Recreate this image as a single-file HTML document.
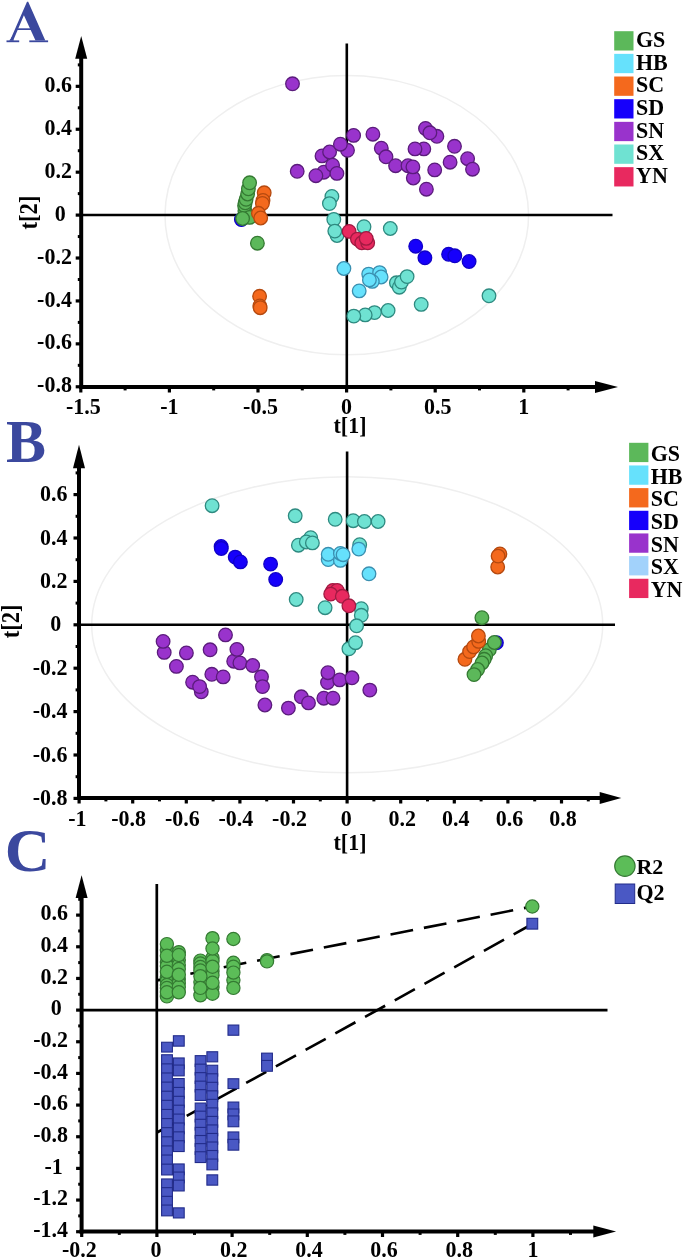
<!DOCTYPE html>
<html><head><meta charset="utf-8"><style>
html,body{margin:0;padding:0;background:#fff;}
svg{display:block;filter:blur(0.35px);}
text{font-family:"Liberation Serif", serif;}
</style></head><body>
<svg width="685" height="1260" viewBox="0 0 685 1260">
<rect width="685" height="1260" fill="#fff"/>
<ellipse cx="346.8" cy="215.2" rx="181.8" ry="139.6" fill="none" stroke="#efefef" stroke-width="1.5"/>
<line x1="81.20" y1="215.10" x2="612.50" y2="215.10" stroke="#000" stroke-width="2.5" />
<line x1="346.80" y1="43.50" x2="346.80" y2="387.00" stroke="#000" stroke-width="2.6" />
<line x1="81.20" y1="57.70" x2="81.20" y2="389.00" stroke="#000" stroke-width="4.0" />
<polygon points="81.20,36.00 75.20,58.70 87.20,58.70" fill="#000"/>
<line x1="79.20" y1="387.00" x2="596.00" y2="387.00" stroke="#000" stroke-width="4.0" />
<polygon points="618.00,387.00 595.00,381.00 595.00,393.00" fill="#000"/>
<line x1="75.70" y1="86.34" x2="81.20" y2="86.34" stroke="#000" stroke-width="3.2" />
<text transform="translate(71.90,91.94) scale(1.0,1.06)" font-size="22" text-anchor="end" fill="#000" font-weight="bold" >0.6</text>
<line x1="75.70" y1="129.26" x2="81.20" y2="129.26" stroke="#000" stroke-width="3.2" />
<text transform="translate(71.90,134.86) scale(1.0,1.06)" font-size="22" text-anchor="end" fill="#000" font-weight="bold" >0.4</text>
<line x1="75.70" y1="172.18" x2="81.20" y2="172.18" stroke="#000" stroke-width="3.2" />
<text transform="translate(71.90,177.78) scale(1.0,1.06)" font-size="22" text-anchor="end" fill="#000" font-weight="bold" >0.2</text>
<line x1="75.70" y1="215.10" x2="81.20" y2="215.10" stroke="#000" stroke-width="3.2" />
<text transform="translate(65.70,220.70) scale(1.0,1.06)" font-size="22" text-anchor="end" fill="#000" font-weight="bold" >0</text>
<line x1="75.70" y1="258.02" x2="81.20" y2="258.02" stroke="#000" stroke-width="3.2" />
<text transform="translate(71.90,263.62) scale(1.0,1.06)" font-size="22" text-anchor="end" fill="#000" font-weight="bold" >-0.2</text>
<line x1="75.70" y1="300.94" x2="81.20" y2="300.94" stroke="#000" stroke-width="3.2" />
<text transform="translate(71.90,306.54) scale(1.0,1.06)" font-size="22" text-anchor="end" fill="#000" font-weight="bold" >-0.4</text>
<line x1="75.70" y1="343.86" x2="81.20" y2="343.86" stroke="#000" stroke-width="3.2" />
<text transform="translate(71.90,349.46) scale(1.0,1.06)" font-size="22" text-anchor="end" fill="#000" font-weight="bold" >-0.6</text>
<line x1="75.70" y1="386.78" x2="81.20" y2="386.78" stroke="#000" stroke-width="3.2" />
<text transform="translate(71.90,392.38) scale(1.0,1.06)" font-size="22" text-anchor="end" fill="#000" font-weight="bold" >-0.8</text>
<line x1="77.80" y1="64.88" x2="81.20" y2="64.88" stroke="#000" stroke-width="3.0" />
<line x1="77.80" y1="107.80" x2="81.20" y2="107.80" stroke="#000" stroke-width="3.0" />
<line x1="77.80" y1="150.72" x2="81.20" y2="150.72" stroke="#000" stroke-width="3.0" />
<line x1="77.80" y1="193.64" x2="81.20" y2="193.64" stroke="#000" stroke-width="3.0" />
<line x1="77.80" y1="236.56" x2="81.20" y2="236.56" stroke="#000" stroke-width="3.0" />
<line x1="77.80" y1="279.48" x2="81.20" y2="279.48" stroke="#000" stroke-width="3.0" />
<line x1="77.80" y1="322.40" x2="81.20" y2="322.40" stroke="#000" stroke-width="3.0" />
<line x1="77.80" y1="365.32" x2="81.20" y2="365.32" stroke="#000" stroke-width="3.0" />
<line x1="80.80" y1="387.00" x2="80.80" y2="392.50" stroke="#000" stroke-width="3.2" />
<text transform="translate(83.30,413.60) scale(1.0,1.06)" font-size="22" text-anchor="middle" fill="#000" font-weight="bold" >-1.5</text>
<line x1="169.40" y1="387.00" x2="169.40" y2="392.50" stroke="#000" stroke-width="3.2" />
<text transform="translate(169.40,413.60) scale(1.0,1.06)" font-size="22" text-anchor="middle" fill="#000" font-weight="bold" >-1</text>
<line x1="258.00" y1="387.00" x2="258.00" y2="392.50" stroke="#000" stroke-width="3.2" />
<text transform="translate(260.50,413.60) scale(1.0,1.06)" font-size="22" text-anchor="middle" fill="#000" font-weight="bold" >-0.5</text>
<line x1="346.60" y1="387.00" x2="346.60" y2="392.50" stroke="#000" stroke-width="3.2" />
<text transform="translate(346.60,413.60) scale(1.0,1.06)" font-size="22" text-anchor="middle" fill="#000" font-weight="bold" >0</text>
<line x1="435.20" y1="387.00" x2="435.20" y2="392.50" stroke="#000" stroke-width="3.2" />
<text transform="translate(437.70,413.60) scale(1.0,1.06)" font-size="22" text-anchor="middle" fill="#000" font-weight="bold" >0.5</text>
<line x1="523.80" y1="387.00" x2="523.80" y2="392.50" stroke="#000" stroke-width="3.2" />
<text transform="translate(523.80,413.60) scale(1.0,1.06)" font-size="22" text-anchor="middle" fill="#000" font-weight="bold" >1</text>
<line x1="125.10" y1="387.00" x2="125.10" y2="390.40" stroke="#000" stroke-width="3.0" />
<line x1="213.70" y1="387.00" x2="213.70" y2="390.40" stroke="#000" stroke-width="3.0" />
<line x1="302.30" y1="387.00" x2="302.30" y2="390.40" stroke="#000" stroke-width="3.0" />
<line x1="390.90" y1="387.00" x2="390.90" y2="390.40" stroke="#000" stroke-width="3.0" />
<line x1="479.50" y1="387.00" x2="479.50" y2="390.40" stroke="#000" stroke-width="3.0" />
<line x1="568.10" y1="387.00" x2="568.10" y2="390.40" stroke="#000" stroke-width="3.0" />
<text transform="translate(350.00,432.80) scale(1.0,1.08)" font-size="22" text-anchor="middle" fill="#000" font-weight="bold" >t[1]</text>
<text x="0.00" y="0.00" font-size="22.6" text-anchor="middle" fill="#000" font-weight="bold" transform="translate(36.5,212.5) rotate(-90) scale(1,1.12)">t[2]</text>
<g fill="#3b489e"><path fill-rule="evenodd" d="M27.0,1.7 L28.2,1.7 L45.3,40.6 L10.0,40.6 Z M23.9,15.2 L13.2,40.6 L35.5,40.6 Z"/><rect x="16.5" y="28.3" width="15.5" height="1.7"/><rect x="6.5" y="40.4" width="12.7" height="1.8"/><rect x="29.3" y="40.4" width="18.8" height="1.8"/><path d="M9,40.6 Q11,39.5 11.5,37 L14,40.6 Z"/></g>
<rect x="614.20" y="31.20" width="19.30" height="19.30" fill="#5cb85a" />
<text transform="translate(636.00,47.00) scale(1.0,1.07)" font-size="22" text-anchor="start" fill="#000" font-weight="bold" >GS</text>
<rect x="614.20" y="53.86" width="19.30" height="19.30" fill="#66e1fc" />
<text transform="translate(636.00,69.66) scale(1.0,1.07)" font-size="22" text-anchor="start" fill="#000" font-weight="bold" >HB</text>
<rect x="614.20" y="76.52" width="19.30" height="19.30" fill="#f4691d" />
<text transform="translate(636.00,92.32) scale(1.0,1.07)" font-size="22" text-anchor="start" fill="#000" font-weight="bold" >SC</text>
<rect x="614.20" y="99.18" width="19.30" height="19.30" fill="#1600fb" />
<text transform="translate(636.00,114.98) scale(1.0,1.07)" font-size="22" text-anchor="start" fill="#000" font-weight="bold" >SD</text>
<rect x="614.20" y="121.84" width="19.30" height="19.30" fill="#9933cc" />
<text transform="translate(636.00,137.64) scale(1.0,1.07)" font-size="22" text-anchor="start" fill="#000" font-weight="bold" >SN</text>
<rect x="614.20" y="144.50" width="19.30" height="19.30" fill="#6fe2d2" />
<text transform="translate(636.00,160.30) scale(1.0,1.07)" font-size="22" text-anchor="start" fill="#000" font-weight="bold" >SX</text>
<rect x="614.20" y="167.16" width="19.30" height="19.30" fill="#e8295f" />
<text transform="translate(636.00,182.96) scale(1.0,1.07)" font-size="22" text-anchor="start" fill="#000" font-weight="bold" >YN</text>
<circle cx="241.4" cy="219.6" r="6.8" fill="#1600fb" stroke="#1000c8" stroke-width="1.3"/>
<circle cx="244.9" cy="211.0" r="6.8" fill="#5cb85a" stroke="#347a32" stroke-width="1.3"/>
<circle cx="244.6" cy="205.7" r="6.8" fill="#5cb85a" stroke="#347a32" stroke-width="1.3"/>
<circle cx="245.2" cy="202.8" r="6.8" fill="#5cb85a" stroke="#347a32" stroke-width="1.3"/>
<circle cx="246.1" cy="199.3" r="6.8" fill="#5cb85a" stroke="#347a32" stroke-width="1.3"/>
<circle cx="247.6" cy="194.0" r="6.8" fill="#5cb85a" stroke="#347a32" stroke-width="1.3"/>
<circle cx="248.4" cy="188.8" r="6.8" fill="#5cb85a" stroke="#347a32" stroke-width="1.3"/>
<circle cx="249.6" cy="182.8" r="6.8" fill="#5cb85a" stroke="#347a32" stroke-width="1.3"/>
<circle cx="249.6" cy="217.4" r="6.8" fill="#5cb85a" stroke="#347a32" stroke-width="1.3"/>
<circle cx="242.6" cy="218.5" r="6.8" fill="#5cb85a" stroke="#347a32" stroke-width="1.3"/>
<circle cx="257.4" cy="243.2" r="6.8" fill="#5cb85a" stroke="#347a32" stroke-width="1.3"/>
<circle cx="264.2" cy="192.8" r="6.8" fill="#f4691d" stroke="#b5490f" stroke-width="1.3"/>
<circle cx="263.0" cy="200.4" r="6.8" fill="#f4691d" stroke="#b5490f" stroke-width="1.3"/>
<circle cx="262.4" cy="203.4" r="6.8" fill="#f4691d" stroke="#b5490f" stroke-width="1.3"/>
<circle cx="258.4" cy="213.3" r="6.8" fill="#f4691d" stroke="#b5490f" stroke-width="1.3"/>
<circle cx="260.7" cy="218.0" r="6.8" fill="#f4691d" stroke="#b5490f" stroke-width="1.3"/>
<circle cx="259.6" cy="296.3" r="6.8" fill="#f4691d" stroke="#b5490f" stroke-width="1.3"/>
<circle cx="259.8" cy="305.9" r="6.8" fill="#f4691d" stroke="#b5490f" stroke-width="1.3"/>
<circle cx="260.2" cy="307.7" r="6.8" fill="#f4691d" stroke="#b5490f" stroke-width="1.3"/>
<circle cx="292.5" cy="83.8" r="6.8" fill="#9933cc" stroke="#5b1c7c" stroke-width="1.3"/>
<circle cx="297.2" cy="171.3" r="6.8" fill="#9933cc" stroke="#5b1c7c" stroke-width="1.3"/>
<circle cx="323.8" cy="172.2" r="6.8" fill="#9933cc" stroke="#5b1c7c" stroke-width="1.3"/>
<circle cx="315.9" cy="175.7" r="6.8" fill="#9933cc" stroke="#5b1c7c" stroke-width="1.3"/>
<circle cx="322.0" cy="155.9" r="6.8" fill="#9933cc" stroke="#5b1c7c" stroke-width="1.3"/>
<circle cx="329.6" cy="152.0" r="6.8" fill="#9933cc" stroke="#5b1c7c" stroke-width="1.3"/>
<circle cx="332.6" cy="165.2" r="6.8" fill="#9933cc" stroke="#5b1c7c" stroke-width="1.3"/>
<circle cx="336.9" cy="173.4" r="6.8" fill="#9933cc" stroke="#5b1c7c" stroke-width="1.3"/>
<circle cx="347.5" cy="150.3" r="6.8" fill="#9933cc" stroke="#5b1c7c" stroke-width="1.3"/>
<circle cx="340.4" cy="144.2" r="6.8" fill="#9933cc" stroke="#5b1c7c" stroke-width="1.3"/>
<circle cx="353.6" cy="135.4" r="6.8" fill="#9933cc" stroke="#5b1c7c" stroke-width="1.3"/>
<circle cx="372.9" cy="134.2" r="6.8" fill="#9933cc" stroke="#5b1c7c" stroke-width="1.3"/>
<circle cx="381.3" cy="148.2" r="6.8" fill="#9933cc" stroke="#5b1c7c" stroke-width="1.3"/>
<circle cx="386.0" cy="156.8" r="6.8" fill="#9933cc" stroke="#5b1c7c" stroke-width="1.3"/>
<circle cx="395.6" cy="165.7" r="6.8" fill="#9933cc" stroke="#5b1c7c" stroke-width="1.3"/>
<circle cx="425.5" cy="128.4" r="6.8" fill="#9933cc" stroke="#5b1c7c" stroke-width="1.3"/>
<circle cx="436.9" cy="136.3" r="6.8" fill="#9933cc" stroke="#5b1c7c" stroke-width="1.3"/>
<circle cx="429.9" cy="132.8" r="6.8" fill="#9933cc" stroke="#5b1c7c" stroke-width="1.3"/>
<circle cx="423.8" cy="148.9" r="6.8" fill="#9933cc" stroke="#5b1c7c" stroke-width="1.3"/>
<circle cx="415.0" cy="148.9" r="6.8" fill="#9933cc" stroke="#5b1c7c" stroke-width="1.3"/>
<circle cx="454.5" cy="146.3" r="6.8" fill="#9933cc" stroke="#5b1c7c" stroke-width="1.3"/>
<circle cx="408.0" cy="165.7" r="6.8" fill="#9933cc" stroke="#5b1c7c" stroke-width="1.3"/>
<circle cx="413.3" cy="178.0" r="6.8" fill="#9933cc" stroke="#5b1c7c" stroke-width="1.3"/>
<circle cx="412.9" cy="166.9" r="6.8" fill="#9933cc" stroke="#5b1c7c" stroke-width="1.3"/>
<circle cx="434.7" cy="169.9" r="6.8" fill="#9933cc" stroke="#5b1c7c" stroke-width="1.3"/>
<circle cx="450.1" cy="162.2" r="6.8" fill="#9933cc" stroke="#5b1c7c" stroke-width="1.3"/>
<circle cx="426.4" cy="189.2" r="6.8" fill="#9933cc" stroke="#5b1c7c" stroke-width="1.3"/>
<circle cx="467.6" cy="158.7" r="6.8" fill="#9933cc" stroke="#5b1c7c" stroke-width="1.3"/>
<circle cx="472.5" cy="169.2" r="6.8" fill="#9933cc" stroke="#5b1c7c" stroke-width="1.3"/>
<circle cx="343.9" cy="268.5" r="6.8" fill="#66e1fc" stroke="#3a8fb0" stroke-width="1.3"/>
<circle cx="368.7" cy="274.1" r="6.8" fill="#66e1fc" stroke="#3a8fb0" stroke-width="1.3"/>
<circle cx="379.6" cy="272.6" r="6.8" fill="#66e1fc" stroke="#3a8fb0" stroke-width="1.3"/>
<circle cx="381.1" cy="277.0" r="6.8" fill="#66e1fc" stroke="#3a8fb0" stroke-width="1.3"/>
<circle cx="372.3" cy="281.4" r="6.8" fill="#66e1fc" stroke="#3a8fb0" stroke-width="1.3"/>
<circle cx="369.4" cy="279.9" r="6.8" fill="#66e1fc" stroke="#3a8fb0" stroke-width="1.3"/>
<circle cx="359.2" cy="290.9" r="6.8" fill="#66e1fc" stroke="#3a8fb0" stroke-width="1.3"/>
<circle cx="415.7" cy="246.2" r="6.8" fill="#1600fb" stroke="#1000c8" stroke-width="1.3"/>
<circle cx="424.9" cy="257.8" r="6.8" fill="#1600fb" stroke="#1000c8" stroke-width="1.3"/>
<circle cx="448.6" cy="254.3" r="6.8" fill="#1600fb" stroke="#1000c8" stroke-width="1.3"/>
<circle cx="454.8" cy="255.8" r="6.8" fill="#1600fb" stroke="#1000c8" stroke-width="1.3"/>
<circle cx="469.1" cy="261.5" r="6.8" fill="#1600fb" stroke="#1000c8" stroke-width="1.3"/>
<circle cx="331.9" cy="196.4" r="6.8" fill="#6fe2d2" stroke="#2e8a80" stroke-width="1.3"/>
<circle cx="329.4" cy="203.6" r="6.8" fill="#6fe2d2" stroke="#2e8a80" stroke-width="1.3"/>
<circle cx="333.8" cy="219.4" r="6.8" fill="#6fe2d2" stroke="#2e8a80" stroke-width="1.3"/>
<circle cx="337.0" cy="235.5" r="6.8" fill="#6fe2d2" stroke="#2e8a80" stroke-width="1.3"/>
<circle cx="334.8" cy="231.1" r="6.8" fill="#6fe2d2" stroke="#2e8a80" stroke-width="1.3"/>
<circle cx="364.0" cy="226.7" r="6.8" fill="#6fe2d2" stroke="#2e8a80" stroke-width="1.3"/>
<circle cx="390.3" cy="228.5" r="6.8" fill="#6fe2d2" stroke="#2e8a80" stroke-width="1.3"/>
<circle cx="396.4" cy="282.8" r="6.8" fill="#6fe2d2" stroke="#2e8a80" stroke-width="1.3"/>
<circle cx="399.3" cy="287.2" r="6.8" fill="#6fe2d2" stroke="#2e8a80" stroke-width="1.3"/>
<circle cx="401.5" cy="282.1" r="6.8" fill="#6fe2d2" stroke="#2e8a80" stroke-width="1.3"/>
<circle cx="407.1" cy="276.6" r="6.8" fill="#6fe2d2" stroke="#2e8a80" stroke-width="1.3"/>
<circle cx="421.2" cy="304.4" r="6.8" fill="#6fe2d2" stroke="#2e8a80" stroke-width="1.3"/>
<circle cx="388.1" cy="310.5" r="6.8" fill="#6fe2d2" stroke="#2e8a80" stroke-width="1.3"/>
<circle cx="374.5" cy="312.6" r="6.8" fill="#6fe2d2" stroke="#2e8a80" stroke-width="1.3"/>
<circle cx="365.2" cy="314.9" r="6.8" fill="#6fe2d2" stroke="#2e8a80" stroke-width="1.3"/>
<circle cx="353.8" cy="316.1" r="6.8" fill="#6fe2d2" stroke="#2e8a80" stroke-width="1.3"/>
<circle cx="489.0" cy="295.8" r="6.8" fill="#6fe2d2" stroke="#2e8a80" stroke-width="1.3"/>
<circle cx="349.1" cy="231.4" r="6.8" fill="#e8295f" stroke="#a11a42" stroke-width="1.3"/>
<circle cx="357.4" cy="239.1" r="6.8" fill="#e8295f" stroke="#a11a42" stroke-width="1.3"/>
<circle cx="361.8" cy="242.8" r="6.8" fill="#e8295f" stroke="#a11a42" stroke-width="1.3"/>
<circle cx="367.7" cy="242.8" r="6.8" fill="#e8295f" stroke="#a11a42" stroke-width="1.3"/>
<circle cx="366.2" cy="238.4" r="6.8" fill="#e8295f" stroke="#a11a42" stroke-width="1.3"/>
<ellipse cx="347.2" cy="624.8" rx="255.5" ry="148" fill="none" stroke="#efefef" stroke-width="1.5"/>
<line x1="79.00" y1="624.80" x2="615.00" y2="624.80" stroke="#000" stroke-width="2.5" />
<line x1="347.10" y1="451.50" x2="347.10" y2="798.00" stroke="#000" stroke-width="2.6" />
<line x1="79.00" y1="467.30" x2="79.00" y2="800.00" stroke="#000" stroke-width="4.0" />
<polygon points="79.00,444.70 73.00,468.30 85.00,468.30" fill="#000"/>
<line x1="77.00" y1="798.00" x2="600.70" y2="798.00" stroke="#000" stroke-width="4.0" />
<polygon points="621.30,798.00 599.70,792.00 599.70,804.00" fill="#000"/>
<line x1="73.50" y1="494.60" x2="79.00" y2="494.60" stroke="#000" stroke-width="3.2" />
<text transform="translate(67.50,501.10) scale(1.0,1.06)" font-size="22" text-anchor="end" fill="#000" font-weight="bold" >0.6</text>
<line x1="73.50" y1="538.00" x2="79.00" y2="538.00" stroke="#000" stroke-width="3.2" />
<text transform="translate(67.50,544.50) scale(1.0,1.06)" font-size="22" text-anchor="end" fill="#000" font-weight="bold" >0.4</text>
<line x1="73.50" y1="581.40" x2="79.00" y2="581.40" stroke="#000" stroke-width="3.2" />
<text transform="translate(67.50,587.90) scale(1.0,1.06)" font-size="22" text-anchor="end" fill="#000" font-weight="bold" >0.2</text>
<line x1="73.50" y1="624.80" x2="79.00" y2="624.80" stroke="#000" stroke-width="3.2" />
<text transform="translate(61.30,631.30) scale(1.0,1.06)" font-size="22" text-anchor="end" fill="#000" font-weight="bold" >0</text>
<line x1="73.50" y1="668.20" x2="79.00" y2="668.20" stroke="#000" stroke-width="3.2" />
<text transform="translate(67.50,674.70) scale(1.0,1.06)" font-size="22" text-anchor="end" fill="#000" font-weight="bold" >-0.2</text>
<line x1="73.50" y1="711.60" x2="79.00" y2="711.60" stroke="#000" stroke-width="3.2" />
<text transform="translate(67.50,718.10) scale(1.0,1.06)" font-size="22" text-anchor="end" fill="#000" font-weight="bold" >-0.4</text>
<line x1="73.50" y1="755.00" x2="79.00" y2="755.00" stroke="#000" stroke-width="3.2" />
<text transform="translate(67.50,761.50) scale(1.0,1.06)" font-size="22" text-anchor="end" fill="#000" font-weight="bold" >-0.6</text>
<line x1="73.50" y1="798.40" x2="79.00" y2="798.40" stroke="#000" stroke-width="3.2" />
<text transform="translate(67.50,804.90) scale(1.0,1.06)" font-size="22" text-anchor="end" fill="#000" font-weight="bold" >-0.8</text>
<line x1="75.60" y1="472.90" x2="79.00" y2="472.90" stroke="#000" stroke-width="3.0" />
<line x1="75.60" y1="516.30" x2="79.00" y2="516.30" stroke="#000" stroke-width="3.0" />
<line x1="75.60" y1="559.70" x2="79.00" y2="559.70" stroke="#000" stroke-width="3.0" />
<line x1="75.60" y1="603.10" x2="79.00" y2="603.10" stroke="#000" stroke-width="3.0" />
<line x1="75.60" y1="646.50" x2="79.00" y2="646.50" stroke="#000" stroke-width="3.0" />
<line x1="75.60" y1="689.90" x2="79.00" y2="689.90" stroke="#000" stroke-width="3.0" />
<line x1="75.60" y1="733.30" x2="79.00" y2="733.30" stroke="#000" stroke-width="3.0" />
<line x1="75.60" y1="776.70" x2="79.00" y2="776.70" stroke="#000" stroke-width="3.0" />
<line x1="79.10" y1="798.00" x2="79.10" y2="803.50" stroke="#000" stroke-width="3.2" />
<text transform="translate(77.30,826.30) scale(1.0,1.06)" font-size="22" text-anchor="middle" fill="#000" font-weight="bold" >-1</text>
<line x1="132.70" y1="798.00" x2="132.70" y2="803.50" stroke="#000" stroke-width="3.2" />
<text transform="translate(128.70,826.30) scale(1.0,1.06)" font-size="22" text-anchor="middle" fill="#000" font-weight="bold" >-0.8</text>
<line x1="186.30" y1="798.00" x2="186.30" y2="803.50" stroke="#000" stroke-width="3.2" />
<text transform="translate(182.30,826.30) scale(1.0,1.06)" font-size="22" text-anchor="middle" fill="#000" font-weight="bold" >-0.6</text>
<line x1="239.90" y1="798.00" x2="239.90" y2="803.50" stroke="#000" stroke-width="3.2" />
<text transform="translate(235.90,826.30) scale(1.0,1.06)" font-size="22" text-anchor="middle" fill="#000" font-weight="bold" >-0.4</text>
<line x1="293.50" y1="798.00" x2="293.50" y2="803.50" stroke="#000" stroke-width="3.2" />
<text transform="translate(289.50,826.30) scale(1.0,1.06)" font-size="22" text-anchor="middle" fill="#000" font-weight="bold" >-0.2</text>
<line x1="347.10" y1="798.00" x2="347.10" y2="803.50" stroke="#000" stroke-width="3.2" />
<text transform="translate(346.20,826.30) scale(1.0,1.06)" font-size="22" text-anchor="middle" fill="#000" font-weight="bold" >0</text>
<line x1="400.70" y1="798.00" x2="400.70" y2="803.50" stroke="#000" stroke-width="3.2" />
<text transform="translate(402.20,826.30) scale(1.0,1.06)" font-size="22" text-anchor="middle" fill="#000" font-weight="bold" >0.2</text>
<line x1="454.30" y1="798.00" x2="454.30" y2="803.50" stroke="#000" stroke-width="3.2" />
<text transform="translate(455.80,826.30) scale(1.0,1.06)" font-size="22" text-anchor="middle" fill="#000" font-weight="bold" >0.4</text>
<line x1="507.90" y1="798.00" x2="507.90" y2="803.50" stroke="#000" stroke-width="3.2" />
<text transform="translate(509.40,826.30) scale(1.0,1.06)" font-size="22" text-anchor="middle" fill="#000" font-weight="bold" >0.6</text>
<line x1="561.50" y1="798.00" x2="561.50" y2="803.50" stroke="#000" stroke-width="3.2" />
<text transform="translate(563.00,826.30) scale(1.0,1.06)" font-size="22" text-anchor="middle" fill="#000" font-weight="bold" >0.8</text>
<line x1="105.90" y1="798.00" x2="105.90" y2="801.40" stroke="#000" stroke-width="3.0" />
<line x1="159.50" y1="798.00" x2="159.50" y2="801.40" stroke="#000" stroke-width="3.0" />
<line x1="213.10" y1="798.00" x2="213.10" y2="801.40" stroke="#000" stroke-width="3.0" />
<line x1="266.70" y1="798.00" x2="266.70" y2="801.40" stroke="#000" stroke-width="3.0" />
<line x1="320.30" y1="798.00" x2="320.30" y2="801.40" stroke="#000" stroke-width="3.0" />
<line x1="373.90" y1="798.00" x2="373.90" y2="801.40" stroke="#000" stroke-width="3.0" />
<line x1="427.50" y1="798.00" x2="427.50" y2="801.40" stroke="#000" stroke-width="3.0" />
<line x1="481.10" y1="798.00" x2="481.10" y2="801.40" stroke="#000" stroke-width="3.0" />
<line x1="534.70" y1="798.00" x2="534.70" y2="801.40" stroke="#000" stroke-width="3.0" />
<line x1="588.30" y1="798.00" x2="588.30" y2="801.40" stroke="#000" stroke-width="3.0" />
<text transform="translate(350.00,849.60) scale(1.0,1.08)" font-size="22" text-anchor="middle" fill="#000" font-weight="bold" >t[1]</text>
<text x="0.00" y="0.00" font-size="22.6" text-anchor="middle" fill="#000" font-weight="bold" transform="translate(19.2,621.4) rotate(-90) scale(1,1.1)">t[2]</text>
<text transform="translate(6.00,461.80) scale(1.0,1.025)" font-size="60" text-anchor="start" fill="#3b489e" font-weight="bold" >B</text>
<rect x="629.10" y="442.80" width="19.30" height="19.30" fill="#5cb85a" />
<text transform="translate(650.70,461.10) scale(1.0,1.06)" font-size="22" text-anchor="start" fill="#000" font-weight="bold" >GS</text>
<rect x="629.10" y="465.46" width="19.30" height="19.30" fill="#66e1fc" />
<text transform="translate(650.70,483.76) scale(1.0,1.06)" font-size="22" text-anchor="start" fill="#000" font-weight="bold" >HB</text>
<rect x="629.10" y="488.12" width="19.30" height="19.30" fill="#f4691d" />
<text transform="translate(650.70,506.42) scale(1.0,1.06)" font-size="22" text-anchor="start" fill="#000" font-weight="bold" >SC</text>
<rect x="629.10" y="510.78" width="19.30" height="19.30" fill="#1600fb" />
<text transform="translate(650.70,529.08) scale(1.0,1.06)" font-size="22" text-anchor="start" fill="#000" font-weight="bold" >SD</text>
<rect x="629.10" y="533.44" width="19.30" height="19.30" fill="#9933cc" />
<text transform="translate(650.70,551.74) scale(1.0,1.06)" font-size="22" text-anchor="start" fill="#000" font-weight="bold" >SN</text>
<rect x="629.10" y="556.10" width="19.30" height="19.30" fill="#a2d2fb" />
<text transform="translate(650.70,574.40) scale(1.0,1.06)" font-size="22" text-anchor="start" fill="#000" font-weight="bold" >SX</text>
<rect x="629.10" y="578.76" width="19.30" height="19.30" fill="#e8295f" />
<text transform="translate(650.70,597.06) scale(1.0,1.06)" font-size="22" text-anchor="start" fill="#000" font-weight="bold" >YN</text>
<circle cx="496.4" cy="642.8" r="6.8" fill="#1600fb" stroke="#1000c8" stroke-width="1.3"/>
<circle cx="481.9" cy="617.7" r="6.8" fill="#5cb85a" stroke="#347a32" stroke-width="1.3"/>
<circle cx="489.3" cy="649.8" r="6.8" fill="#5cb85a" stroke="#347a32" stroke-width="1.3"/>
<circle cx="485.7" cy="655.7" r="6.8" fill="#5cb85a" stroke="#347a32" stroke-width="1.3"/>
<circle cx="484.2" cy="659.3" r="6.8" fill="#5cb85a" stroke="#347a32" stroke-width="1.3"/>
<circle cx="482.0" cy="663.0" r="6.8" fill="#5cb85a" stroke="#347a32" stroke-width="1.3"/>
<circle cx="477.6" cy="669.5" r="6.8" fill="#5cb85a" stroke="#347a32" stroke-width="1.3"/>
<circle cx="474.0" cy="674.6" r="6.8" fill="#5cb85a" stroke="#347a32" stroke-width="1.3"/>
<circle cx="494.4" cy="642.5" r="6.8" fill="#5cb85a" stroke="#347a32" stroke-width="1.3"/>
<circle cx="497.7" cy="567.0" r="6.8" fill="#f4691d" stroke="#b5490f" stroke-width="1.3"/>
<circle cx="499.9" cy="553.9" r="6.8" fill="#f4691d" stroke="#b5490f" stroke-width="1.3"/>
<circle cx="498.1" cy="556.1" r="6.8" fill="#f4691d" stroke="#b5490f" stroke-width="1.3"/>
<circle cx="464.9" cy="659.3" r="6.8" fill="#f4691d" stroke="#b5490f" stroke-width="1.3"/>
<circle cx="469.6" cy="651.6" r="6.8" fill="#f4691d" stroke="#b5490f" stroke-width="1.3"/>
<circle cx="473.6" cy="646.9" r="6.8" fill="#f4691d" stroke="#b5490f" stroke-width="1.3"/>
<circle cx="478.7" cy="641.4" r="6.8" fill="#f4691d" stroke="#b5490f" stroke-width="1.3"/>
<circle cx="478.4" cy="636.0" r="6.8" fill="#f4691d" stroke="#b5490f" stroke-width="1.3"/>
<circle cx="164.2" cy="652.4" r="6.8" fill="#9933cc" stroke="#5b1c7c" stroke-width="1.3"/>
<circle cx="163.1" cy="641.4" r="6.8" fill="#9933cc" stroke="#5b1c7c" stroke-width="1.3"/>
<circle cx="176.4" cy="666.4" r="6.8" fill="#9933cc" stroke="#5b1c7c" stroke-width="1.3"/>
<circle cx="186.4" cy="652.9" r="6.8" fill="#9933cc" stroke="#5b1c7c" stroke-width="1.3"/>
<circle cx="192.6" cy="682.2" r="6.8" fill="#9933cc" stroke="#5b1c7c" stroke-width="1.3"/>
<circle cx="201.3" cy="691.8" r="6.8" fill="#9933cc" stroke="#5b1c7c" stroke-width="1.3"/>
<circle cx="199.6" cy="686.6" r="6.8" fill="#9933cc" stroke="#5b1c7c" stroke-width="1.3"/>
<circle cx="210.1" cy="649.8" r="6.8" fill="#9933cc" stroke="#5b1c7c" stroke-width="1.3"/>
<circle cx="211.8" cy="674.3" r="6.8" fill="#9933cc" stroke="#5b1c7c" stroke-width="1.3"/>
<circle cx="223.2" cy="676.9" r="6.8" fill="#9933cc" stroke="#5b1c7c" stroke-width="1.3"/>
<circle cx="225.5" cy="634.9" r="6.8" fill="#9933cc" stroke="#5b1c7c" stroke-width="1.3"/>
<circle cx="233.7" cy="661.2" r="6.8" fill="#9933cc" stroke="#5b1c7c" stroke-width="1.3"/>
<circle cx="239.9" cy="662.9" r="6.8" fill="#9933cc" stroke="#5b1c7c" stroke-width="1.3"/>
<circle cx="236.9" cy="649.4" r="6.8" fill="#9933cc" stroke="#5b1c7c" stroke-width="1.3"/>
<circle cx="252.7" cy="665.5" r="6.8" fill="#9933cc" stroke="#5b1c7c" stroke-width="1.3"/>
<circle cx="261.5" cy="676.8" r="6.8" fill="#9933cc" stroke="#5b1c7c" stroke-width="1.3"/>
<circle cx="262.5" cy="686.6" r="6.8" fill="#9933cc" stroke="#5b1c7c" stroke-width="1.3"/>
<circle cx="264.9" cy="705.0" r="6.8" fill="#9933cc" stroke="#5b1c7c" stroke-width="1.3"/>
<circle cx="288.4" cy="708.1" r="6.8" fill="#9933cc" stroke="#5b1c7c" stroke-width="1.3"/>
<circle cx="301.3" cy="696.8" r="6.8" fill="#9933cc" stroke="#5b1c7c" stroke-width="1.3"/>
<circle cx="308.5" cy="702.9" r="6.8" fill="#9933cc" stroke="#5b1c7c" stroke-width="1.3"/>
<circle cx="323.8" cy="698.2" r="6.8" fill="#9933cc" stroke="#5b1c7c" stroke-width="1.3"/>
<circle cx="333.0" cy="698.2" r="6.8" fill="#9933cc" stroke="#5b1c7c" stroke-width="1.3"/>
<circle cx="327.5" cy="682.5" r="6.8" fill="#9933cc" stroke="#5b1c7c" stroke-width="1.3"/>
<circle cx="327.9" cy="672.7" r="6.8" fill="#9933cc" stroke="#5b1c7c" stroke-width="1.3"/>
<circle cx="339.7" cy="679.9" r="6.8" fill="#9933cc" stroke="#5b1c7c" stroke-width="1.3"/>
<circle cx="352.0" cy="677.8" r="6.8" fill="#9933cc" stroke="#5b1c7c" stroke-width="1.3"/>
<circle cx="369.8" cy="690.1" r="6.8" fill="#9933cc" stroke="#5b1c7c" stroke-width="1.3"/>
<circle cx="212.1" cy="505.7" r="6.8" fill="#6fe2d2" stroke="#2e8a80" stroke-width="1.3"/>
<circle cx="295.2" cy="515.8" r="6.8" fill="#6fe2d2" stroke="#2e8a80" stroke-width="1.3"/>
<circle cx="335.2" cy="519.3" r="6.8" fill="#6fe2d2" stroke="#2e8a80" stroke-width="1.3"/>
<circle cx="353.2" cy="520.7" r="6.8" fill="#6fe2d2" stroke="#2e8a80" stroke-width="1.3"/>
<circle cx="364.4" cy="521.5" r="6.8" fill="#6fe2d2" stroke="#2e8a80" stroke-width="1.3"/>
<circle cx="378.1" cy="521.5" r="6.8" fill="#6fe2d2" stroke="#2e8a80" stroke-width="1.3"/>
<circle cx="298.4" cy="545.2" r="6.8" fill="#6fe2d2" stroke="#2e8a80" stroke-width="1.3"/>
<circle cx="310.7" cy="537.7" r="6.8" fill="#6fe2d2" stroke="#2e8a80" stroke-width="1.3"/>
<circle cx="306.3" cy="542.0" r="6.8" fill="#6fe2d2" stroke="#2e8a80" stroke-width="1.3"/>
<circle cx="312.4" cy="542.9" r="6.8" fill="#6fe2d2" stroke="#2e8a80" stroke-width="1.3"/>
<circle cx="359.7" cy="544.7" r="6.8" fill="#6fe2d2" stroke="#2e8a80" stroke-width="1.3"/>
<circle cx="296.2" cy="599.5" r="6.8" fill="#6fe2d2" stroke="#2e8a80" stroke-width="1.3"/>
<circle cx="325.1" cy="607.7" r="6.8" fill="#6fe2d2" stroke="#2e8a80" stroke-width="1.3"/>
<circle cx="361.3" cy="608.7" r="6.8" fill="#6fe2d2" stroke="#2e8a80" stroke-width="1.3"/>
<circle cx="361.3" cy="615.3" r="6.8" fill="#6fe2d2" stroke="#2e8a80" stroke-width="1.3"/>
<circle cx="356.6" cy="625.8" r="6.8" fill="#6fe2d2" stroke="#2e8a80" stroke-width="1.3"/>
<circle cx="348.9" cy="648.8" r="6.8" fill="#6fe2d2" stroke="#2e8a80" stroke-width="1.3"/>
<circle cx="355.5" cy="642.7" r="6.8" fill="#6fe2d2" stroke="#2e8a80" stroke-width="1.3"/>
<circle cx="328.2" cy="559.6" r="6.8" fill="#66e1fc" stroke="#3a8fb0" stroke-width="1.3"/>
<circle cx="328.2" cy="554.3" r="6.8" fill="#66e1fc" stroke="#3a8fb0" stroke-width="1.3"/>
<circle cx="340.4" cy="560.4" r="6.8" fill="#66e1fc" stroke="#3a8fb0" stroke-width="1.3"/>
<circle cx="340.4" cy="553.4" r="6.8" fill="#66e1fc" stroke="#3a8fb0" stroke-width="1.3"/>
<circle cx="343.1" cy="554.7" r="6.8" fill="#66e1fc" stroke="#3a8fb0" stroke-width="1.3"/>
<circle cx="358.8" cy="549.1" r="6.8" fill="#66e1fc" stroke="#3a8fb0" stroke-width="1.3"/>
<circle cx="369.0" cy="573.8" r="6.8" fill="#66e1fc" stroke="#3a8fb0" stroke-width="1.3"/>
<circle cx="221.1" cy="546.5" r="6.8" fill="#1600fb" stroke="#1000c8" stroke-width="1.3"/>
<circle cx="221.3" cy="548.5" r="6.8" fill="#1600fb" stroke="#1000c8" stroke-width="1.3"/>
<circle cx="235.2" cy="557.1" r="6.8" fill="#1600fb" stroke="#1000c8" stroke-width="1.3"/>
<circle cx="240.4" cy="561.9" r="6.8" fill="#1600fb" stroke="#1000c8" stroke-width="1.3"/>
<circle cx="270.6" cy="564.1" r="6.8" fill="#1600fb" stroke="#1000c8" stroke-width="1.3"/>
<circle cx="275.7" cy="579.5" r="6.8" fill="#1600fb" stroke="#1000c8" stroke-width="1.3"/>
<circle cx="332.8" cy="590.4" r="6.8" fill="#e8295f" stroke="#a11a42" stroke-width="1.3"/>
<circle cx="337.2" cy="590.4" r="6.8" fill="#e8295f" stroke="#a11a42" stroke-width="1.3"/>
<circle cx="330.7" cy="594.1" r="6.8" fill="#e8295f" stroke="#a11a42" stroke-width="1.3"/>
<circle cx="342.3" cy="596.3" r="6.8" fill="#e8295f" stroke="#a11a42" stroke-width="1.3"/>
<circle cx="348.9" cy="605.8" r="6.8" fill="#e8295f" stroke="#a11a42" stroke-width="1.3"/>
<line x1="81.60" y1="1010.10" x2="607.50" y2="1010.10" stroke="#000" stroke-width="2.6" />
<line x1="156.80" y1="884.00" x2="156.80" y2="1231.50" stroke="#000" stroke-width="2.7" />
<line x1="81.60" y1="897.10" x2="81.60" y2="1233.50" stroke="#000" stroke-width="4.0" />
<polygon points="81.60,875.20 75.60,898.10 87.60,898.10" fill="#000"/>
<line x1="79.60" y1="1231.50" x2="594.30" y2="1231.50" stroke="#000" stroke-width="4.0" />
<polygon points="616.10,1231.50 593.30,1225.50 593.30,1237.50" fill="#000"/>
<line x1="76.10" y1="915.12" x2="81.60" y2="915.12" stroke="#000" stroke-width="3.2" />
<text transform="translate(68.00,920.32) scale(1.0,1.06)" font-size="22" text-anchor="end" fill="#000" font-weight="bold" >0.6</text>
<line x1="76.10" y1="946.78" x2="81.60" y2="946.78" stroke="#000" stroke-width="3.2" />
<text transform="translate(68.00,951.98) scale(1.0,1.06)" font-size="22" text-anchor="end" fill="#000" font-weight="bold" >0.4</text>
<line x1="76.10" y1="978.44" x2="81.60" y2="978.44" stroke="#000" stroke-width="3.2" />
<text transform="translate(68.00,983.64) scale(1.0,1.06)" font-size="22" text-anchor="end" fill="#000" font-weight="bold" >0.2</text>
<line x1="76.10" y1="1010.10" x2="81.60" y2="1010.10" stroke="#000" stroke-width="3.2" />
<text transform="translate(61.80,1015.30) scale(1.0,1.06)" font-size="22" text-anchor="end" fill="#000" font-weight="bold" >0</text>
<line x1="76.10" y1="1041.76" x2="81.60" y2="1041.76" stroke="#000" stroke-width="3.2" />
<text transform="translate(68.00,1046.96) scale(1.0,1.06)" font-size="22" text-anchor="end" fill="#000" font-weight="bold" >-0.2</text>
<line x1="76.10" y1="1073.42" x2="81.60" y2="1073.42" stroke="#000" stroke-width="3.2" />
<text transform="translate(68.00,1078.62) scale(1.0,1.06)" font-size="22" text-anchor="end" fill="#000" font-weight="bold" >-0.4</text>
<line x1="76.10" y1="1105.08" x2="81.60" y2="1105.08" stroke="#000" stroke-width="3.2" />
<text transform="translate(68.00,1110.28) scale(1.0,1.06)" font-size="22" text-anchor="end" fill="#000" font-weight="bold" >-0.6</text>
<line x1="76.10" y1="1136.74" x2="81.60" y2="1136.74" stroke="#000" stroke-width="3.2" />
<text transform="translate(68.00,1141.94) scale(1.0,1.06)" font-size="22" text-anchor="end" fill="#000" font-weight="bold" >-0.8</text>
<line x1="76.10" y1="1168.40" x2="81.60" y2="1168.40" stroke="#000" stroke-width="3.2" />
<text transform="translate(62.80,1173.60) scale(1.0,1.06)" font-size="22" text-anchor="end" fill="#000" font-weight="bold" >-1</text>
<line x1="76.10" y1="1200.06" x2="81.60" y2="1200.06" stroke="#000" stroke-width="3.2" />
<text transform="translate(68.00,1205.26) scale(1.0,1.06)" font-size="22" text-anchor="end" fill="#000" font-weight="bold" >-1.2</text>
<line x1="76.10" y1="1231.72" x2="81.60" y2="1231.72" stroke="#000" stroke-width="3.2" />
<text transform="translate(68.00,1236.92) scale(1.0,1.06)" font-size="22" text-anchor="end" fill="#000" font-weight="bold" >-1.4</text>
<line x1="78.20" y1="899.29" x2="81.60" y2="899.29" stroke="#000" stroke-width="3.0" />
<line x1="78.20" y1="930.95" x2="81.60" y2="930.95" stroke="#000" stroke-width="3.0" />
<line x1="78.20" y1="962.61" x2="81.60" y2="962.61" stroke="#000" stroke-width="3.0" />
<line x1="78.20" y1="994.27" x2="81.60" y2="994.27" stroke="#000" stroke-width="3.0" />
<line x1="78.20" y1="1025.93" x2="81.60" y2="1025.93" stroke="#000" stroke-width="3.0" />
<line x1="78.20" y1="1057.59" x2="81.60" y2="1057.59" stroke="#000" stroke-width="3.0" />
<line x1="78.20" y1="1089.25" x2="81.60" y2="1089.25" stroke="#000" stroke-width="3.0" />
<line x1="78.20" y1="1120.91" x2="81.60" y2="1120.91" stroke="#000" stroke-width="3.0" />
<line x1="78.20" y1="1152.57" x2="81.60" y2="1152.57" stroke="#000" stroke-width="3.0" />
<line x1="78.20" y1="1184.23" x2="81.60" y2="1184.23" stroke="#000" stroke-width="3.0" />
<line x1="78.20" y1="1215.89" x2="81.60" y2="1215.89" stroke="#000" stroke-width="3.0" />
<line x1="81.70" y1="1231.50" x2="81.70" y2="1237.00" stroke="#000" stroke-width="3.2" />
<text transform="translate(79.30,1256.70) scale(1.0,1.06)" font-size="22" text-anchor="middle" fill="#000" font-weight="bold" >-0.2</text>
<line x1="156.90" y1="1231.50" x2="156.90" y2="1237.00" stroke="#000" stroke-width="3.2" />
<text transform="translate(155.90,1256.70) scale(1.0,1.06)" font-size="22" text-anchor="middle" fill="#000" font-weight="bold" >0</text>
<line x1="232.10" y1="1231.50" x2="232.10" y2="1237.00" stroke="#000" stroke-width="3.2" />
<text transform="translate(233.70,1256.70) scale(1.0,1.06)" font-size="22" text-anchor="middle" fill="#000" font-weight="bold" >0.2</text>
<line x1="307.30" y1="1231.50" x2="307.30" y2="1237.00" stroke="#000" stroke-width="3.2" />
<text transform="translate(308.90,1256.70) scale(1.0,1.06)" font-size="22" text-anchor="middle" fill="#000" font-weight="bold" >0.4</text>
<line x1="382.50" y1="1231.50" x2="382.50" y2="1237.00" stroke="#000" stroke-width="3.2" />
<text transform="translate(384.10,1256.70) scale(1.0,1.06)" font-size="22" text-anchor="middle" fill="#000" font-weight="bold" >0.6</text>
<line x1="457.70" y1="1231.50" x2="457.70" y2="1237.00" stroke="#000" stroke-width="3.2" />
<text transform="translate(459.30,1256.70) scale(1.0,1.06)" font-size="22" text-anchor="middle" fill="#000" font-weight="bold" >0.8</text>
<line x1="532.90" y1="1231.50" x2="532.90" y2="1237.00" stroke="#000" stroke-width="3.2" />
<text transform="translate(532.90,1256.70) scale(1.0,1.06)" font-size="22" text-anchor="middle" fill="#000" font-weight="bold" >1</text>
<line x1="119.30" y1="1231.50" x2="119.30" y2="1234.90" stroke="#000" stroke-width="3.0" />
<line x1="194.50" y1="1231.50" x2="194.50" y2="1234.90" stroke="#000" stroke-width="3.0" />
<line x1="269.70" y1="1231.50" x2="269.70" y2="1234.90" stroke="#000" stroke-width="3.0" />
<line x1="344.90" y1="1231.50" x2="344.90" y2="1234.90" stroke="#000" stroke-width="3.0" />
<line x1="420.10" y1="1231.50" x2="420.10" y2="1234.90" stroke="#000" stroke-width="3.0" />
<line x1="495.30" y1="1231.50" x2="495.30" y2="1234.90" stroke="#000" stroke-width="3.0" />
<line x1="570.50" y1="1231.50" x2="570.50" y2="1234.90" stroke="#000" stroke-width="3.0" />
<text transform="translate(4.80,871.30) scale(1.02,0.995)" font-size="62" text-anchor="start" fill="#3b489e" font-weight="bold" >C</text>
<line x1="157.00" y1="980.40" x2="532.30" y2="906.50" stroke="#000" stroke-width="2.6" stroke-dasharray="23 11"/>
<line x1="157.00" y1="1132.50" x2="532.30" y2="924.00" stroke="#000" stroke-width="2.6" stroke-dasharray="23 11"/>
<rect x="161.60" y="1042.25" width="10.80" height="9.80" fill="#4a58c4" stroke="#222c8a" stroke-width="1.1"/>
<rect x="161.60" y="1054.75" width="10.80" height="10.80" fill="#4a58c4" stroke="#222c8a" stroke-width="1.1"/>
<rect x="161.60" y="1063.87" width="10.80" height="10.80" fill="#4a58c4" stroke="#222c8a" stroke-width="1.1"/>
<rect x="161.60" y="1072.98" width="10.80" height="10.80" fill="#4a58c4" stroke="#222c8a" stroke-width="1.1"/>
<rect x="161.60" y="1082.10" width="10.80" height="10.80" fill="#4a58c4" stroke="#222c8a" stroke-width="1.1"/>
<rect x="161.60" y="1091.22" width="10.80" height="10.80" fill="#4a58c4" stroke="#222c8a" stroke-width="1.1"/>
<rect x="161.60" y="1100.33" width="10.80" height="10.80" fill="#4a58c4" stroke="#222c8a" stroke-width="1.1"/>
<rect x="161.60" y="1109.45" width="10.80" height="10.80" fill="#4a58c4" stroke="#222c8a" stroke-width="1.1"/>
<rect x="161.60" y="1118.57" width="10.80" height="10.80" fill="#4a58c4" stroke="#222c8a" stroke-width="1.1"/>
<rect x="161.60" y="1127.68" width="10.80" height="10.80" fill="#4a58c4" stroke="#222c8a" stroke-width="1.1"/>
<rect x="161.60" y="1136.80" width="10.80" height="10.80" fill="#4a58c4" stroke="#222c8a" stroke-width="1.1"/>
<rect x="161.60" y="1145.92" width="10.80" height="10.80" fill="#4a58c4" stroke="#222c8a" stroke-width="1.1"/>
<rect x="161.60" y="1155.03" width="10.80" height="10.80" fill="#4a58c4" stroke="#222c8a" stroke-width="1.1"/>
<rect x="161.60" y="1164.15" width="10.80" height="10.80" fill="#4a58c4" stroke="#222c8a" stroke-width="1.1"/>
<rect x="161.60" y="1178.95" width="10.80" height="10.80" fill="#4a58c4" stroke="#222c8a" stroke-width="1.1"/>
<rect x="161.60" y="1187.65" width="10.80" height="10.80" fill="#4a58c4" stroke="#222c8a" stroke-width="1.1"/>
<rect x="161.60" y="1196.35" width="10.80" height="10.80" fill="#4a58c4" stroke="#222c8a" stroke-width="1.1"/>
<rect x="161.60" y="1205.05" width="10.80" height="10.80" fill="#4a58c4" stroke="#222c8a" stroke-width="1.1"/>
<rect x="173.40" y="1035.75" width="10.80" height="10.40" fill="#4a58c4" stroke="#222c8a" stroke-width="1.1"/>
<rect x="173.40" y="1057.95" width="10.80" height="10.80" fill="#4a58c4" stroke="#222c8a" stroke-width="1.1"/>
<rect x="173.40" y="1065.05" width="10.80" height="10.80" fill="#4a58c4" stroke="#222c8a" stroke-width="1.1"/>
<rect x="173.40" y="1078.55" width="10.80" height="10.80" fill="#4a58c4" stroke="#222c8a" stroke-width="1.1"/>
<rect x="173.40" y="1087.44" width="10.80" height="10.80" fill="#4a58c4" stroke="#222c8a" stroke-width="1.1"/>
<rect x="173.40" y="1096.32" width="10.80" height="10.80" fill="#4a58c4" stroke="#222c8a" stroke-width="1.1"/>
<rect x="173.40" y="1105.21" width="10.80" height="10.80" fill="#4a58c4" stroke="#222c8a" stroke-width="1.1"/>
<rect x="173.40" y="1114.09" width="10.80" height="10.80" fill="#4a58c4" stroke="#222c8a" stroke-width="1.1"/>
<rect x="173.40" y="1122.98" width="10.80" height="10.80" fill="#4a58c4" stroke="#222c8a" stroke-width="1.1"/>
<rect x="173.40" y="1131.86" width="10.80" height="10.80" fill="#4a58c4" stroke="#222c8a" stroke-width="1.1"/>
<rect x="173.40" y="1140.75" width="10.80" height="10.80" fill="#4a58c4" stroke="#222c8a" stroke-width="1.1"/>
<rect x="173.40" y="1163.95" width="10.80" height="10.80" fill="#4a58c4" stroke="#222c8a" stroke-width="1.1"/>
<rect x="173.40" y="1172.05" width="10.80" height="10.80" fill="#4a58c4" stroke="#222c8a" stroke-width="1.1"/>
<rect x="173.40" y="1180.15" width="10.80" height="10.80" fill="#4a58c4" stroke="#222c8a" stroke-width="1.1"/>
<rect x="173.40" y="1207.85" width="10.80" height="10.10" fill="#4a58c4" stroke="#222c8a" stroke-width="1.1"/>
<rect x="195.20" y="1055.65" width="10.80" height="10.80" fill="#4a58c4" stroke="#222c8a" stroke-width="1.1"/>
<rect x="195.20" y="1064.15" width="10.80" height="10.80" fill="#4a58c4" stroke="#222c8a" stroke-width="1.1"/>
<rect x="195.20" y="1072.65" width="10.80" height="10.80" fill="#4a58c4" stroke="#222c8a" stroke-width="1.1"/>
<rect x="195.20" y="1081.15" width="10.80" height="10.80" fill="#4a58c4" stroke="#222c8a" stroke-width="1.1"/>
<rect x="195.20" y="1089.65" width="10.80" height="10.80" fill="#4a58c4" stroke="#222c8a" stroke-width="1.1"/>
<rect x="195.20" y="1103.05" width="10.80" height="10.80" fill="#4a58c4" stroke="#222c8a" stroke-width="1.1"/>
<rect x="195.20" y="1111.17" width="10.80" height="10.80" fill="#4a58c4" stroke="#222c8a" stroke-width="1.1"/>
<rect x="195.20" y="1119.28" width="10.80" height="10.80" fill="#4a58c4" stroke="#222c8a" stroke-width="1.1"/>
<rect x="195.20" y="1127.40" width="10.80" height="10.80" fill="#4a58c4" stroke="#222c8a" stroke-width="1.1"/>
<rect x="195.20" y="1135.52" width="10.80" height="10.80" fill="#4a58c4" stroke="#222c8a" stroke-width="1.1"/>
<rect x="195.20" y="1143.63" width="10.80" height="10.80" fill="#4a58c4" stroke="#222c8a" stroke-width="1.1"/>
<rect x="195.20" y="1151.75" width="10.80" height="10.80" fill="#4a58c4" stroke="#222c8a" stroke-width="1.1"/>
<rect x="206.90" y="1051.75" width="10.80" height="10.10" fill="#4a58c4" stroke="#222c8a" stroke-width="1.1"/>
<rect x="206.90" y="1065.25" width="10.80" height="10.80" fill="#4a58c4" stroke="#222c8a" stroke-width="1.1"/>
<rect x="206.90" y="1073.78" width="10.80" height="10.80" fill="#4a58c4" stroke="#222c8a" stroke-width="1.1"/>
<rect x="206.90" y="1082.30" width="10.80" height="10.80" fill="#4a58c4" stroke="#222c8a" stroke-width="1.1"/>
<rect x="206.90" y="1090.83" width="10.80" height="10.80" fill="#4a58c4" stroke="#222c8a" stroke-width="1.1"/>
<rect x="206.90" y="1099.36" width="10.80" height="10.80" fill="#4a58c4" stroke="#222c8a" stroke-width="1.1"/>
<rect x="206.90" y="1107.89" width="10.80" height="10.80" fill="#4a58c4" stroke="#222c8a" stroke-width="1.1"/>
<rect x="206.90" y="1116.41" width="10.80" height="10.80" fill="#4a58c4" stroke="#222c8a" stroke-width="1.1"/>
<rect x="206.90" y="1124.94" width="10.80" height="10.80" fill="#4a58c4" stroke="#222c8a" stroke-width="1.1"/>
<rect x="206.90" y="1133.47" width="10.80" height="10.80" fill="#4a58c4" stroke="#222c8a" stroke-width="1.1"/>
<rect x="206.90" y="1142.00" width="10.80" height="10.80" fill="#4a58c4" stroke="#222c8a" stroke-width="1.1"/>
<rect x="206.90" y="1150.52" width="10.80" height="10.80" fill="#4a58c4" stroke="#222c8a" stroke-width="1.1"/>
<rect x="206.90" y="1159.05" width="10.80" height="10.80" fill="#4a58c4" stroke="#222c8a" stroke-width="1.1"/>
<rect x="206.90" y="1174.85" width="10.80" height="10.30" fill="#4a58c4" stroke="#222c8a" stroke-width="1.1"/>
<rect x="228.00" y="1025.05" width="10.80" height="10.20" fill="#4a58c4" stroke="#222c8a" stroke-width="1.1"/>
<rect x="228.00" y="1078.75" width="10.80" height="9.80" fill="#4a58c4" stroke="#222c8a" stroke-width="1.1"/>
<rect x="228.00" y="1102.05" width="10.80" height="10.80" fill="#4a58c4" stroke="#222c8a" stroke-width="1.1"/>
<rect x="228.00" y="1109.00" width="10.80" height="10.80" fill="#4a58c4" stroke="#222c8a" stroke-width="1.1"/>
<rect x="228.00" y="1115.95" width="10.80" height="10.80" fill="#4a58c4" stroke="#222c8a" stroke-width="1.1"/>
<rect x="228.00" y="1131.95" width="10.80" height="10.80" fill="#4a58c4" stroke="#222c8a" stroke-width="1.1"/>
<rect x="228.00" y="1139.35" width="10.80" height="10.80" fill="#4a58c4" stroke="#222c8a" stroke-width="1.1"/>
<rect x="261.60" y="1053.15" width="10.80" height="10.80" fill="#4a58c4" stroke="#222c8a" stroke-width="1.1"/>
<rect x="261.60" y="1060.45" width="10.80" height="10.80" fill="#4a58c4" stroke="#222c8a" stroke-width="1.1"/>
<circle cx="166.9" cy="950.0" r="6.6" fill="#5cbd58" stroke="#347a32" stroke-width="1.2"/>
<circle cx="166.9" cy="962.0" r="6.6" fill="#5cbd58" stroke="#347a32" stroke-width="1.2"/>
<circle cx="166.9" cy="966.0" r="6.6" fill="#5cbd58" stroke="#347a32" stroke-width="1.2"/>
<circle cx="166.9" cy="977.0" r="6.6" fill="#5cbd58" stroke="#347a32" stroke-width="1.2"/>
<circle cx="166.9" cy="981.0" r="6.6" fill="#5cbd58" stroke="#347a32" stroke-width="1.2"/>
<circle cx="166.9" cy="985.0" r="6.6" fill="#5cbd58" stroke="#347a32" stroke-width="1.2"/>
<circle cx="166.9" cy="988.0" r="6.6" fill="#5cbd58" stroke="#347a32" stroke-width="1.2"/>
<circle cx="166.9" cy="996.4" r="6.6" fill="#5cbd58" stroke="#347a32" stroke-width="1.2"/>
<circle cx="178.8" cy="952.2" r="6.6" fill="#5cbd58" stroke="#347a32" stroke-width="1.2"/>
<circle cx="178.8" cy="960.0" r="6.6" fill="#5cbd58" stroke="#347a32" stroke-width="1.2"/>
<circle cx="178.8" cy="965.0" r="6.6" fill="#5cbd58" stroke="#347a32" stroke-width="1.2"/>
<circle cx="178.8" cy="969.0" r="6.6" fill="#5cbd58" stroke="#347a32" stroke-width="1.2"/>
<circle cx="178.8" cy="979.0" r="6.6" fill="#5cbd58" stroke="#347a32" stroke-width="1.2"/>
<circle cx="178.8" cy="983.0" r="6.6" fill="#5cbd58" stroke="#347a32" stroke-width="1.2"/>
<circle cx="178.8" cy="987.0" r="6.6" fill="#5cbd58" stroke="#347a32" stroke-width="1.2"/>
<circle cx="200.4" cy="960.6" r="6.6" fill="#5cbd58" stroke="#347a32" stroke-width="1.2"/>
<circle cx="200.4" cy="963.5" r="6.6" fill="#5cbd58" stroke="#347a32" stroke-width="1.2"/>
<circle cx="200.4" cy="967.0" r="6.6" fill="#5cbd58" stroke="#347a32" stroke-width="1.2"/>
<circle cx="200.4" cy="970.5" r="6.6" fill="#5cbd58" stroke="#347a32" stroke-width="1.2"/>
<circle cx="200.4" cy="982.0" r="6.6" fill="#5cbd58" stroke="#347a32" stroke-width="1.2"/>
<circle cx="200.4" cy="995.3" r="6.6" fill="#5cbd58" stroke="#347a32" stroke-width="1.2"/>
<circle cx="212.5" cy="957.9" r="6.6" fill="#5cbd58" stroke="#347a32" stroke-width="1.2"/>
<circle cx="212.5" cy="961.0" r="6.6" fill="#5cbd58" stroke="#347a32" stroke-width="1.2"/>
<circle cx="212.5" cy="971.0" r="6.6" fill="#5cbd58" stroke="#347a32" stroke-width="1.2"/>
<circle cx="212.5" cy="975.0" r="6.6" fill="#5cbd58" stroke="#347a32" stroke-width="1.2"/>
<circle cx="212.5" cy="987.0" r="6.6" fill="#5cbd58" stroke="#347a32" stroke-width="1.2"/>
<circle cx="212.5" cy="993.7" r="6.6" fill="#5cbd58" stroke="#347a32" stroke-width="1.2"/>
<circle cx="233.4" cy="962.8" r="6.6" fill="#5cbd58" stroke="#347a32" stroke-width="1.2"/>
<circle cx="233.4" cy="966.8" r="6.6" fill="#5cbd58" stroke="#347a32" stroke-width="1.2"/>
<circle cx="233.4" cy="980.0" r="6.6" fill="#5cbd58" stroke="#347a32" stroke-width="1.2"/>
<circle cx="267.0" cy="960.1" r="6.6" fill="#5cbd58" stroke="#347a32" stroke-width="1.2"/>
<circle cx="166.9" cy="944.1" r="6.6" fill="#5cbd58" stroke="#347a32" stroke-width="1.2"/>
<circle cx="166.9" cy="955.8" r="6.6" fill="#5cbd58" stroke="#347a32" stroke-width="1.2"/>
<circle cx="166.9" cy="971.8" r="6.6" fill="#5cbd58" stroke="#347a32" stroke-width="1.2"/>
<circle cx="166.9" cy="992.3" r="6.6" fill="#5cbd58" stroke="#347a32" stroke-width="1.2"/>
<circle cx="178.8" cy="955.0" r="6.6" fill="#5cbd58" stroke="#347a32" stroke-width="1.2"/>
<circle cx="178.8" cy="974.7" r="6.6" fill="#5cbd58" stroke="#347a32" stroke-width="1.2"/>
<circle cx="178.8" cy="992.3" r="6.6" fill="#5cbd58" stroke="#347a32" stroke-width="1.2"/>
<circle cx="200.4" cy="976.2" r="6.6" fill="#5cbd58" stroke="#347a32" stroke-width="1.2"/>
<circle cx="200.4" cy="987.9" r="6.6" fill="#5cbd58" stroke="#347a32" stroke-width="1.2"/>
<circle cx="212.5" cy="938.2" r="6.6" fill="#5cbd58" stroke="#347a32" stroke-width="1.2"/>
<circle cx="212.5" cy="948.5" r="6.6" fill="#5cbd58" stroke="#347a32" stroke-width="1.2"/>
<circle cx="212.5" cy="966.7" r="6.6" fill="#5cbd58" stroke="#347a32" stroke-width="1.2"/>
<circle cx="212.5" cy="982.8" r="6.6" fill="#5cbd58" stroke="#347a32" stroke-width="1.2"/>
<circle cx="233.4" cy="939.0" r="6.6" fill="#5cbd58" stroke="#347a32" stroke-width="1.2"/>
<circle cx="233.4" cy="972.6" r="6.6" fill="#5cbd58" stroke="#347a32" stroke-width="1.2"/>
<circle cx="233.4" cy="987.9" r="6.6" fill="#5cbd58" stroke="#347a32" stroke-width="1.2"/>
<circle cx="267.0" cy="961.4" r="6.6" fill="#5cbd58" stroke="#347a32" stroke-width="1.2"/>
<circle cx="532.3" cy="906.5" r="6.6" fill="#5cbd58" stroke="#347a32" stroke-width="1.2"/>
<rect x="526.90" y="918.30" width="10.80" height="10.80" fill="#4a58c4" stroke="#222c8a" stroke-width="1.1"/>
<circle cx="624.9" cy="866.1" r="10.2" fill="#5cbd58" stroke="#347a32" stroke-width="1.2"/>
<rect x="615.2" y="884.0" width="19.5" height="19.5" fill="#4a58c4" stroke="#222c8a" stroke-width="1"/>
<text x="636.40" y="873.50" font-size="22" text-anchor="start" fill="#000" font-weight="bold" >R2</text>
<text transform="translate(636.40,899.60) scale(1.0,1.04)" font-size="22" text-anchor="start" fill="#000" font-weight="bold" >Q2</text>
</svg></body></html>
